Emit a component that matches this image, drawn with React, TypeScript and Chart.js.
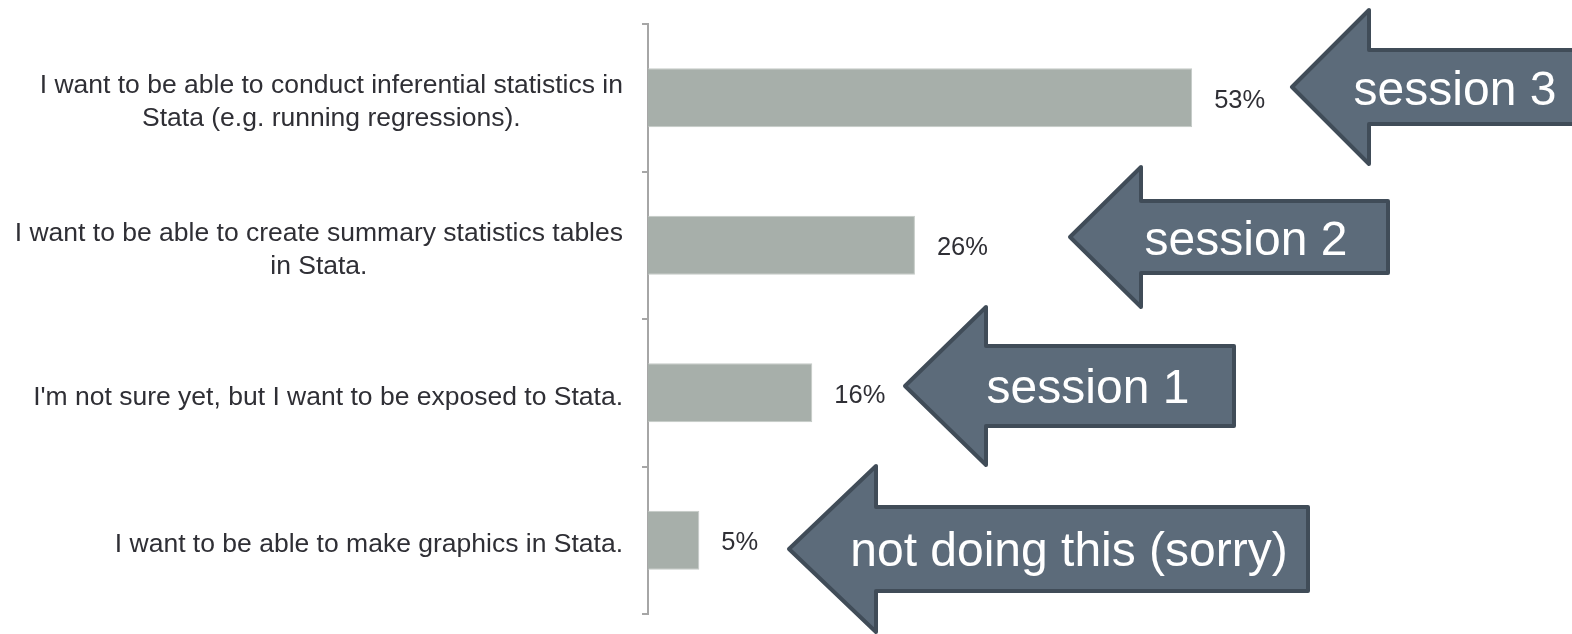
import React, { useEffect, useRef } from "react";
import { Chart, registerables } from "chart.js";

Chart.register(...registerables);

const categoryLines: string[][] = [
  ["I want to be able to conduct inferential statistics in", "Stata (e.g. running regressions)."],
  ["I want to be able to create summary statistics tables", "in Stata."],
  ["I'm not sure yet, but I want to be exposed to Stata."],
  ["I want to be able to make graphics in Stata."],
];
const values: number[] = [53, 26, 16, 5];
const valueLabels: string[] = ["53%", "26%", "16%", "5%"];
const arrowTexts: string[] = ["session 3", "session 2", "session 1", "not doing this (sorry)"];

const FONT = "'Liberation Sans', Arial, sans-serif";

// annotation arrow geometry (pixels)
const arrowShapes = [
  { tx: 1292, ty: 87, hx: 1369, hh: 77, sh: 37, rx: 1620, cx: 1455, cy: 90 },
  { tx: 1070, ty: 237, hx: 1141, hh: 70, sh: 36, rx: 1388, cx: 1246, cy: 240 },
  { tx: 905, ty: 386, hx: 986, hh: 79, sh: 40, rx: 1234, cx: 1088, cy: 388 },
  { tx: 789, ty: 549, hx: 876, hh: 83, sh: 42, rx: 1308, cx: 1069, cy: 551 },
];

const labelsPlugin = {
  id: "customLabels",
  afterDraw(chart: any) {
    const ctx = chart.ctx;
    const yScale = chart.scales.y;
    ctx.save();
    ctx.font = `26.5px ${FONT}`;
    ctx.fillStyle = "#2f2f35";
    ctx.textBaseline = "alphabetic";
    ctx.textAlign = "center";
    const right = 623;
    const lh = 33;
    categoryLines.forEach((lines, i) => {
      const c = yScale.getPixelForValue(i);
      const w = Math.max(...lines.map((l) => ctx.measureText(l).width));
      const cx = right - w / 2;
      const first = c + 12 - ((lines.length - 1) * lh) / 2;
      lines.forEach((l, j) => ctx.fillText(l, cx, first + j * lh));
    });
    // value labels
    const meta = chart.getDatasetMeta(0);
    ctx.textAlign = "left";
    ctx.textBaseline = "middle";
    ctx.font = `25.5px ${FONT}`;
    meta.data.forEach((bar: any, i: number) => {
      ctx.fillText(valueLabels[i], bar.x + 22, bar.y + 3);
    });
    // arrows
    arrowShapes.forEach((a, i) => {
      ctx.beginPath();
      ctx.moveTo(a.tx, a.ty);
      ctx.lineTo(a.hx, a.ty - a.hh);
      ctx.lineTo(a.hx, a.ty - a.sh);
      ctx.lineTo(a.rx, a.ty - a.sh);
      ctx.lineTo(a.rx, a.ty + a.sh);
      ctx.lineTo(a.hx, a.ty + a.sh);
      ctx.lineTo(a.hx, a.ty + a.hh);
      ctx.closePath();
      ctx.fillStyle = "#5c6b7a";
      ctx.fill();
      ctx.lineJoin = "round";
      ctx.lineWidth = 4;
      ctx.strokeStyle = "#404c58";
      ctx.stroke();
      ctx.fillStyle = "#ffffff";
      ctx.font = `48px ${FONT}`;
      ctx.textAlign = "center";
      ctx.textBaseline = "middle";
      ctx.fillText(arrowTexts[i], a.cx, a.cy + 2);
    });
    ctx.restore();
  },
};

export default function App() {
  const ref = useRef<HTMLCanvasElement | null>(null);
  useEffect(() => {
    if (!ref.current) return;
    const chart = new Chart(ref.current, {
      type: "bar",
      data: {
        labels: categoryLines.map((l) => l.join(" ")),
        datasets: [
          {
            data: values,
            backgroundColor: "#a7afaa",
            borderColor: "#c4cac6",
            borderWidth: 1,
            barPercentage: 0.4,
            categoryPercentage: 1,
          },
        ],
      },
      options: {
        indexAxis: "y",
        animation: false,
        responsive: false,
        layout: { padding: { top: 24, bottom: 20, left: 0, right: 0 } },
        plugins: { legend: { display: false }, tooltip: { enabled: false } },
        scales: {
          x: { display: false, min: 0, max: 90 },
          y: {
            afterFit(scale: any) {
              scale.width = 648;
            },
            ticks: { display: false },
            grid: {
              display: true,
              drawOnChartArea: false,
              drawTicks: true,
              tickLength: 6,
              color: "#a6a6a6",
              lineWidth: 2,
              offset: true,
            },
            border: { display: true, color: "#a6a6a6", width: 2 },
          },
        },
      },
      plugins: [labelsPlugin],
    });
    return () => chart.destroy();
  }, []);
  return (
    <div style={{ position: "fixed", left: 0, top: 0, width: 1572, height: 634, background: "#fff" }}>
      <canvas ref={ref} width={1572} height={634} />
    </div>
  );
}
